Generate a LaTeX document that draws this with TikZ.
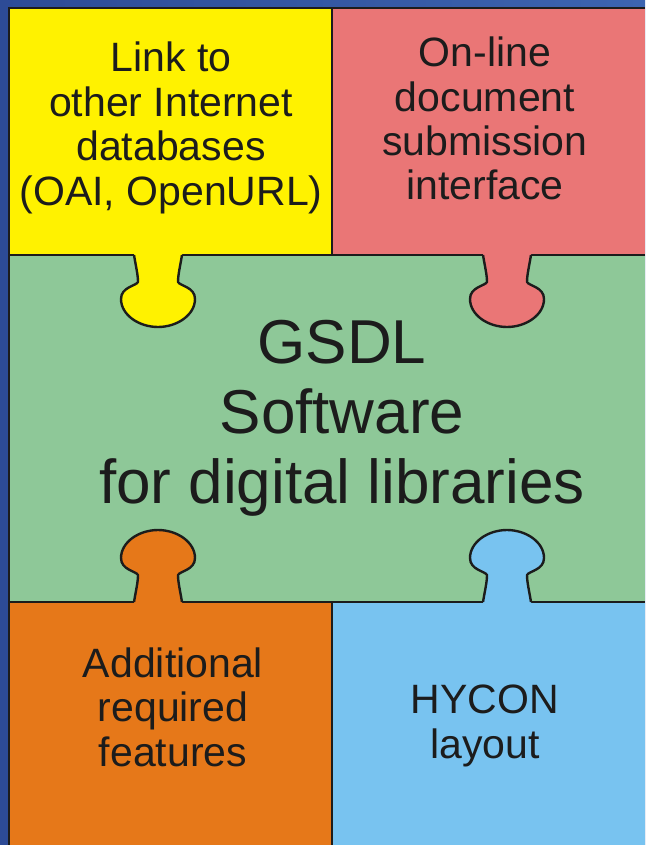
\documentclass[tikz,border=0pt]{standalone}
\usepackage{fontspec}
\setmainfont{Liberation Sans}
\definecolor{bgblue}{HTML}{2D4B96}
\definecolor{bgblueL}{HTML}{3C64B0}
\definecolor{pyellow}{HTML}{FFF200}
\definecolor{pred}{HTML}{EA7676}
\definecolor{pgreen}{HTML}{8EC898}
\definecolor{porange}{HTML}{E67819}
\definecolor{pblue}{HTML}{78C3F0}
\definecolor{inkc}{HTML}{1C1C1C}
\tikzset{
  edge/.style={draw=inkc, line width=2.4pt, line join=round},
  frame/.style={draw=inkc, line width=2.8pt},
  smalltxt/.style={text=inkc, align=center, anchor=base, inner sep=0pt,
    font=\fontsize{41}{44.5}\selectfont},
  bigtxt/.style={text=inkc, align=center, anchor=base, inner sep=0pt,
    font=\fontsize{62}{70}\selectfont}
}
% puzzle tab: #1 = centre x, #2 = base y, #3 = direction (1 down, -1 up), #4 = colour
\newcommand\puzzletab[4]{%
  \begin{scope}[shift={(#1,#2)}, yscale=#3]
    \fill[#4] (-24,-4) -- (-24,0) .. controls (-22,12) and (-20,20) .. (-20,27)
      .. controls (-22,31) and (-37,32) .. (-37,44)
      .. controls (-37,60) and (-19,72) .. (0,72)
      .. controls (19,72) and (37,60) .. (37,44)
      .. controls (37,32) and (22,31) .. (20,27)
      .. controls (20,20) and (22,12) .. (24,0) -- (24,-4) -- cycle;
    \draw[edge] (-24,0) .. controls (-22,12) and (-20,20) .. (-20,27)
      .. controls (-22,31) and (-37,32) .. (-37,44)
      .. controls (-37,60) and (-19,72) .. (0,72)
      .. controls (19,72) and (37,60) .. (37,44)
      .. controls (37,32) and (22,31) .. (20,27)
      .. controls (20,20) and (22,12) .. (24,0);
  \end{scope}}
\begin{document}
\begin{tikzpicture}[x=1pt, y=-1pt]
  \useasboundingbox (0,0) rectangle (645,845);
  % background
  \shade[left color=bgblue, right color=bgblueL] (0,0) rectangle (645,845);
  % pieces
  \fill[pyellow] (9,8) rectangle (332,255);
  \fill[pred] (332,8) rectangle (645,255);
  \fill[pgreen] (9,255) rectangle (645,602);
  \fill[porange] (9,602) rectangle (332,845);
  \fill[pblue] (332,602) rectangle (645,845);
  % straight seams
  \draw[edge] (332,8) -- (332,255);
  \draw[edge] (332,602) -- (332,845);
  \draw[edge] (9,255) -- (645,255);
  \draw[edge] (9,602) -- (645,602);
  % outer frame
  \draw[frame] (9,845) -- (9,8) -- (645,8);
  % tabs
  \puzzletab{158}{255}{1}{pyellow}
  \puzzletab{507}{255}{1}{pred}
  \puzzletab{158}{602}{-1}{porange}
  \puzzletab{507}{602}{-1}{pblue}
  % texts (base anchor = baseline of the last line)
  \node[smalltxt] (link) at (171,205) {Link to\\other Internet\\databases\\(OAI, OpenURL)};
  \node[smalltxt] (online) at (485,200) {On-line\\document\\submission\\interface};
  \node[bigtxt] (gsdl) at (342,503) {GSDL\\Software\\for digital libraries};
  \node[smalltxt] (addl) at (173,766) {Additional\\required\\features};
  \node[smalltxt] (hycon) at (485,758) {HYCON\\layout};
\end{tikzpicture}
\end{document}
